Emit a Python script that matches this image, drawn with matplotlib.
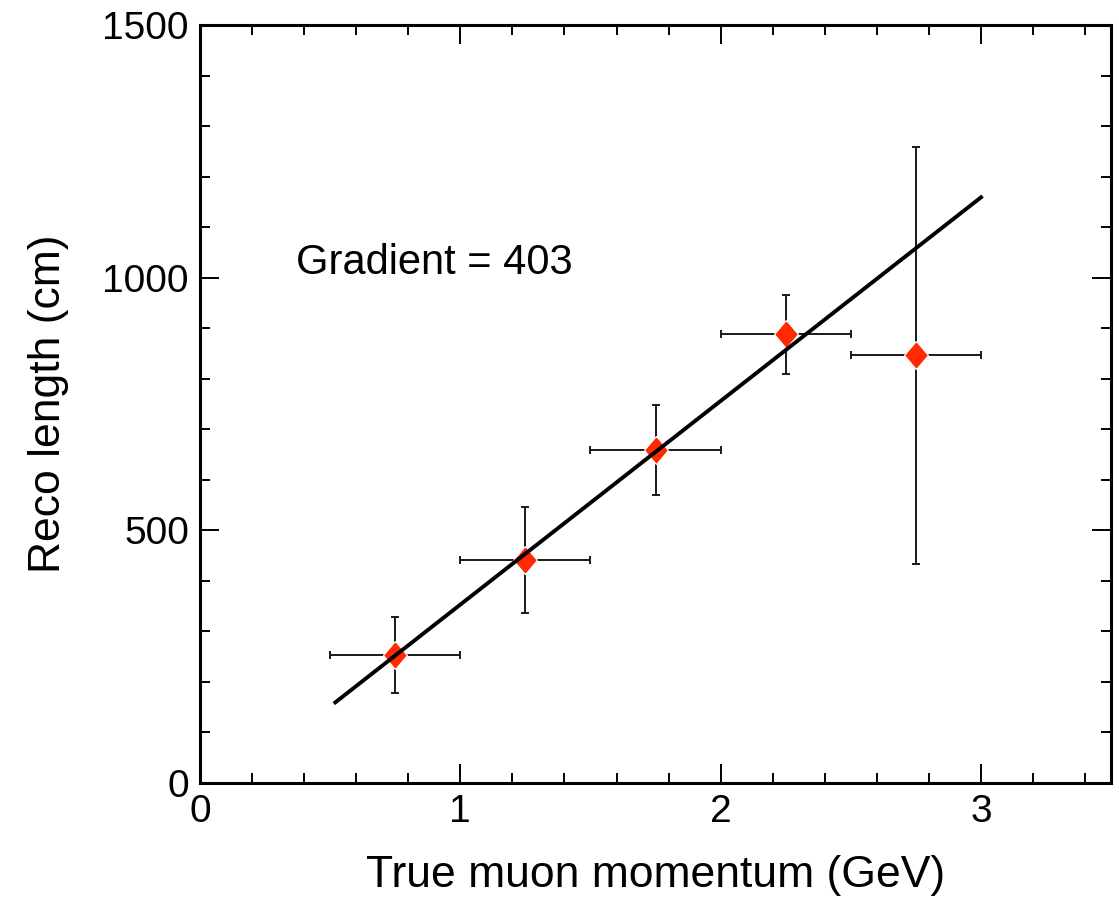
import matplotlib
matplotlib.use('Agg')
import matplotlib.pyplot as plt
from matplotlib.ticker import MultipleLocator
import numpy as np

plt.rcParams['font.family'] = ['Liberation Sans', 'DejaVu Sans']

# binned reco length vs true momentum
p_true = np.array([0.75, 1.25, 1.75, 2.25, 2.75])
p_halfwidth = np.array([0.25, 0.25, 0.25, 0.25, 0.25])
reco_len = np.array([253, 441, 659, 888, 846])
reco_err = np.array([75, 105, 89, 78, 412])

# straight-line fit
gradient = 403
intercept = -50
fit_range = [0.52, 3.0]

fig = plt.figure(figsize=(11.19, 8.97), dpi=100)
ax = fig.add_axes([0.1787, 0.1271, 0.8143, 0.845])

ax.errorbar(p_true, reco_len, xerr=p_halfwidth, yerr=reco_err,
            fmt='none', ecolor='#1a1a1a', elinewidth=1.4,
            capsize=3, capthick=1.4, zorder=2)

# ROOT-style fat diamond, with a small white gap around it
diamond = [(0, 1), (0.85, 0), (0, -1), (-0.85, 0), (0, 1)]
ax.plot(p_true, reco_len, ls='none', marker=diamond, ms=20,
        mfc='white', mec='white', zorder=3)
ax.plot(p_true, reco_len, ls='none', marker=diamond, ms=17.5,
        mfc='#ff2a00', mec='#ff2a00', zorder=4)

xf = np.array(fit_range)
ax.plot(xf, gradient * xf + intercept, color='black', lw=2.8, zorder=5)

ax.text(0.37, 1030, 'Gradient = %d' % gradient, fontsize=30,
        va='center', ha='left')

ax.set_xlim(0, 3.5)
ax.set_ylim(0, 1500)
ax.xaxis.set_major_locator(MultipleLocator(1))
ax.xaxis.set_minor_locator(MultipleLocator(0.2))
ax.yaxis.set_major_locator(MultipleLocator(500))
ax.yaxis.set_minor_locator(MultipleLocator(100))

ax.tick_params(which='both', direction='in', top=True, right=True,
               width=1.4, labelsize=28, pad=8)
ax.tick_params(which='major', length=14)
ax.tick_params(which='minor', length=7)
for s in ax.spines.values():
    s.set_linewidth(2.2)

ax.set_xlabel('True muon momentum (GeV)', fontsize=32, labelpad=18)
ax.set_ylabel('Reco length (cm)', fontsize=32, labelpad=24)

fig.savefig('out.png', dpi=100)
